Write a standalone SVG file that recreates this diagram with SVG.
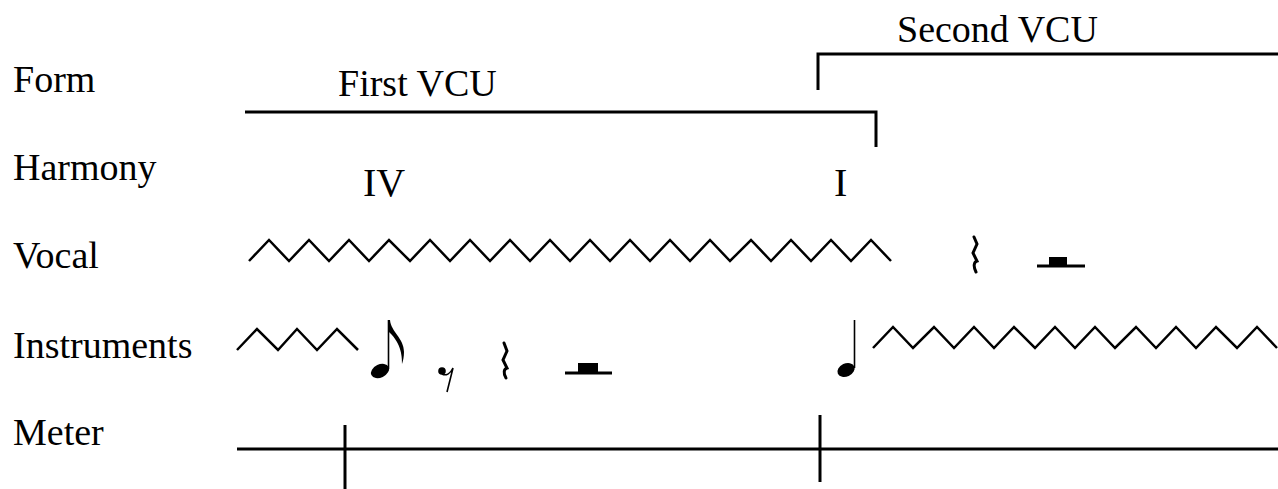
<svg xmlns="http://www.w3.org/2000/svg" width="1278" height="489" viewBox="0 0 1278 489">
<style>
text { font-family: "Liberation Serif", "Times New Roman", serif; font-size: 38px; fill: #000; }
.roman { font-size: 40px; }
.ln { stroke: #000; stroke-width: 3; fill: none; }
.zz { stroke: #000; stroke-width: 2.5; fill: none; stroke-linejoin: miter; }
.rest { stroke: #000; stroke-width: 3; fill: none; stroke-linecap: round; }
.blk { fill: #000; }
</style>
<rect width="1278" height="489" fill="#fff"/>
<g id="labels">
<text x="13" y="92">Form</text>
<text x="13" y="180">Harmony</text>
<text x="13" y="268">Vocal</text>
<text x="13" y="358">Instruments</text>
<text x="13" y="445">Meter</text>
</g>
<g id="first-vcu">
<text x="338" y="96">First VCU</text>
<polyline class="ln" points="245,112 876,112 876,147"/>
</g>
<g id="second-vcu">
<text x="897" y="42">Second VCU</text>
<polyline class="ln" points="818,90 818,54 1278,54"/>
</g>
<g id="harmony">
<text class="roman" x="363" y="196">IV</text>
<text class="roman" x="834" y="196">I</text>
</g>
<g id="vocal">
<polyline class="zz" points="249,261 269,240 289,261 309,240 329,261 349,240 369,261 389,240 410,261 430,240 450,261 470,240 490,261 510,240 530,261 550,240 570,261 590,240 610,261 630,240 650,261 670,240 690,261 710,240 730,261 751,240 771,261 791,240 811,261 831,240 851,261 871,240 891,261"/>
<path class="rest" d="M974,237 L977,244 L973,253 L977,261 C974,262 973,266 976,272"/>
<line class="ln" x1="1037" y1="266" x2="1085" y2="266"/>
<rect class="blk" x="1049" y="257" width="18" height="9"/>
</g>
<g id="instruments">
<polyline class="zz" points="237,350 257,329 278,350 297,329 317,350 337,329 358,350"/>
<ellipse class="blk" cx="380" cy="371" rx="9.5" ry="6.5" transform="rotate(-25 380 371)"/>
<line x1="388.5" y1="320" x2="388.5" y2="369" stroke="#000" stroke-width="1.6"/>
<path class="blk" d="M388,320 L390,320 C391,332 404,338 404,352 C404,357 403,361 402,364 C402,358 402,344 389,332 Z"/>
<circle class="blk" cx="442" cy="371" r="3.8"/>
<path d="M442,374 C446,376 450,374 453,368 L447,392" stroke="#000" stroke-width="1.6" fill="none"/>
<path class="rest" d="M504,343 L507,351 L503,360 L507,368 C504,369 503,373 506,378"/>
<line class="ln" x1="565" y1="373" x2="612" y2="373"/>
<rect class="blk" x="578" y="363" width="20" height="10"/>
<ellipse class="blk" cx="846" cy="370" rx="9" ry="6.5" transform="rotate(-25 846 370)"/>
<line x1="854.5" y1="320" x2="854.5" y2="368" stroke="#000" stroke-width="1.6"/>
<polyline class="zz" points="873,348 893,327 913,348 934,327 954,348 974,327 994,348 1014,327 1035,348 1055,327 1075,348 1095,327 1115,348 1136,327 1156,348 1176,327 1196,348 1216,327 1237,348 1257,327 1277,348"/>
</g>
<g id="meter">
<line class="ln" x1="237" y1="449" x2="1278" y2="449"/>
<line class="ln" x1="345" y1="425" x2="345" y2="489"/>
<line class="ln" x1="820" y1="415" x2="820" y2="482"/>
</g>
</svg>
